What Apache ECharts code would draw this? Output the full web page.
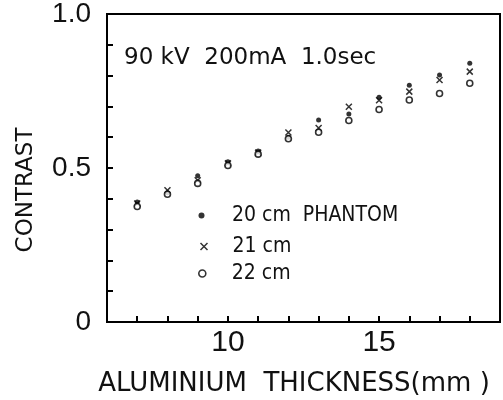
<!DOCTYPE html>
<html><head><meta charset="utf-8">
<script src="https://cdn.jsdelivr.net/npm/echarts@6/dist/echarts.min.js"></script>
<style>html,body{margin:0;padding:0;background:#fff}#c{width:503px;height:400px}</style>
</head><body><div id="c"></div>
<script>
const thickness = [7, 8, 9, 10, 11, 12, 13, 14, 15, 16, 17, 18];
const phantom20 = [0.39, 0.42, 0.475, 0.52, 0.555, 0.60, 0.656, 0.675, 0.73, 0.769, 0.802, 0.84];
const phantom21 = [0.385, 0.428, 0.46, 0.515, 0.55, 0.615, 0.63, 0.699, 0.72, 0.748, 0.786, 0.813];
const phantom22 = [0.375, 0.415, 0.45, 0.508, 0.545, 0.595, 0.616, 0.654, 0.69, 0.721, 0.742, 0.775];
const seriesNames = ['20 cm  PHANTOM', '21 cm', '22 cm'];
const xLabels = [10, 15];
const yLabels = {0: '0', 0.5: '0.5', 1: '1.0'};
const annotation = '90 kV  200mA  1.0sec';
const xName = 'ALUMINIUM  THICKNESS(mm )';
const yName = 'CONTRAST';

const font = 'DejaVu Sans';
const numFont = 'Liberation Sans';
const legFont = '"Liberation Sans Narrow", "DejaVu Sans Condensed", "DejaVu Sans"';
const pair = arr => thickness.map((t, i) => [t, arr[i]]);
const crossPath = 'path://M0,0L10,10M10,0L0,10';

const sym = [
  {symbol: 'circle', size: 5, style: {color: '#000'}},
  {symbol: crossPath, size: 6, style: {color: 'none', borderColor: '#000', borderWidth: 1.5}},
  {symbol: 'circle', size: 6, style: {color: '#fff', borderColor: '#000', borderWidth: 1.6}}
];
const legendRowsY = [215, 246, 273];
const legendTextX = [232, 230, 231], legendIconX = 201;

const chart = echarts.init(document.getElementById('c'), null, {renderer: 'canvas'});
chart.setOption({
  animation: false,
  backgroundColor: '#fff',
  grid: {left: 107, right: 1, top: 13, bottom: 78, show: true, borderColor: '#000', borderWidth: 2, backgroundColor: 'transparent'},
  xAxis: {
    type: 'value', min: 6, max: 19, interval: 1,
    axisLine: {lineStyle: {color: '#000', width: 2}},
    axisTick: {inside: true, length: 6, lineStyle: {color: '#000', width: 2}},
    splitLine: {show: false},
    axisLabel: {fontFamily: numFont, fontSize: 30, color: '#111', margin: 6,
      formatter: v => xLabels.includes(v) ? String(v) : ''}
  },
  yAxis: {
    type: 'value', min: 0, max: 1, interval: 0.1,
    axisLine: {lineStyle: {color: '#000', width: 2}},
    axisTick: {inside: true, length: 6, lineStyle: {color: '#000', width: 2}},
    splitLine: {show: false},
    axisLabel: {fontFamily: numFont, fontSize: 28, color: '#111', margin: 16,
      formatter: v => { const k = Math.round(v * 10) / 10; return yLabels[k] !== undefined ? yLabels[k] : ''; }}
  },
  legend: seriesNames.map((n, i) => ({
    orient: 'vertical', padding: 0,
    left: legendIconX - sym[i].size / 2, top: legendRowsY[i] - 10,
    itemWidth: sym[i].size + 1, itemHeight: sym[i].size + 1,
    textStyle: {fontFamily: legFont, fontSize: 21, lineHeight: 20, color: '#111',
      padding: [0, 0, 0, legendTextX[i] - (legendIconX + sym[i].size / 2 + 6)]},
    data: [{name: n, icon: sym[i].symbol, itemStyle: sym[i].style}]
  })),
  graphic: [
    {type: 'text', left: 124, top: 47, style: {text: annotation, fontFamily: font, fontSize: 23, fill: '#111'}},
    {type: 'text', x: 26, y: 190, rotation: Math.PI / 2, style: {text: yName, fontFamily: font, fontSize: 23, fill: '#111', textAlign: 'center', textVerticalAlign: 'middle'}},
    {type: 'text', x: 294, y: 384, style: {text: xName, fontFamily: font, fontSize: 26, fill: '#111', textAlign: 'center', textVerticalAlign: 'middle'}}
  ],
  series: seriesNames.map((n, i) => ({
    name: n, type: 'scatter', data: pair([phantom20, phantom21, phantom22][i]),
    symbol: sym[i].symbol, symbolSize: sym[i].size, itemStyle: sym[i].style, z: [3, 2, 4][i]
  }))
});
</script></body></html>
